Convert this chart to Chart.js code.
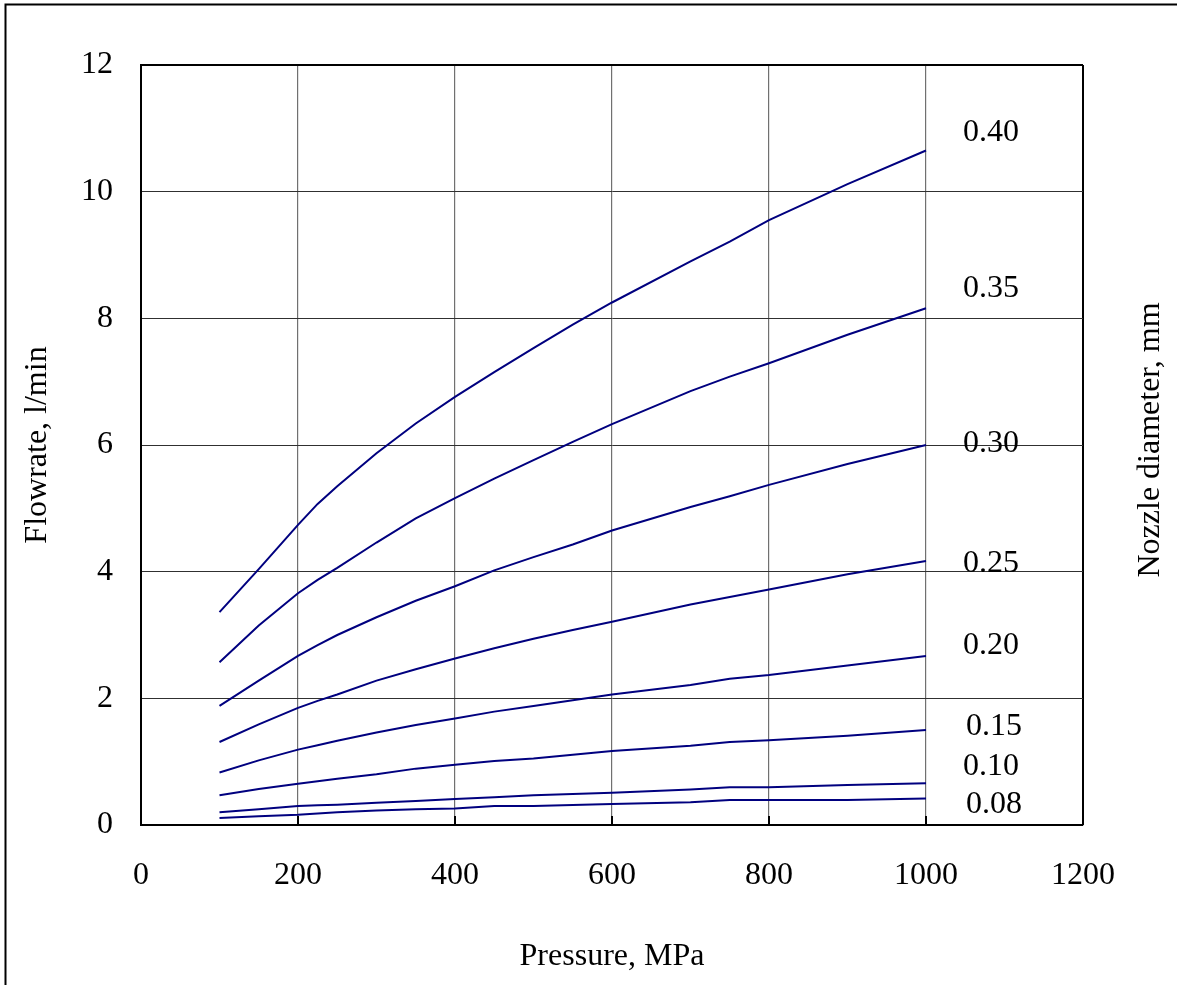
<!DOCTYPE html>
<html>
<head>
<meta charset="utf-8">
<title>Flowrate vs pressure</title>
<script src="https://cdn.jsdelivr.net/npm/chart.js"></script>
<style>
  body { margin: 0; background: #fff; }
  canvas { display: block; }
</style>
</head>
<body>
<canvas id="flowchart" width="1177" height="985"></canvas>
<script>
// pressure, MPa
const pressure = [100, 150, 200, 225, 250, 300, 350, 400, 450, 500, 550, 600, 700, 750, 800, 900, 1000];

// nozzle diameters, mm
const diameters = ['0.40', '0.35', '0.30', '0.25', '0.20', '0.15', '0.10', '0.08'];

// flowrate, l/min
const flow040 = [3.36, 4.04, 4.74, 5.07, 5.35, 5.87, 6.34, 6.76, 7.15, 7.53, 7.90, 8.25, 8.90, 9.21, 9.55, 10.12, 10.65];
const flow035 = [2.57, 3.15, 3.66, 3.87, 4.06, 4.46, 4.84, 5.16, 5.47, 5.76, 6.05, 6.33, 6.85, 7.08, 7.29, 7.74, 8.16];
const flow030 = [1.88, 2.28, 2.67, 2.84, 3.00, 3.28, 3.54, 3.77, 4.02, 4.23, 4.43, 4.65, 5.02, 5.19, 5.37, 5.70, 6.00];
const flow025 = [1.31, 1.59, 1.85, 1.96, 2.06, 2.28, 2.46, 2.63, 2.79, 2.94, 3.08, 3.21, 3.48, 3.60, 3.72, 3.96, 4.17];
const flow020 = [0.83, 1.02, 1.19, 1.26, 1.33, 1.46, 1.58, 1.68, 1.79, 1.88, 1.97, 2.06, 2.21, 2.31, 2.37, 2.52, 2.67];
const flow015 = [0.47, 0.57, 0.65, 0.69, 0.73, 0.80, 0.89, 0.95, 1.01, 1.05, 1.11, 1.17, 1.25, 1.31, 1.34, 1.41, 1.50];
const flow010 = [0.20, 0.25, 0.30, 0.31, 0.32, 0.35, 0.38, 0.41, 0.44, 0.47, 0.49, 0.51, 0.56, 0.595, 0.595, 0.63, 0.66];
const flow008 = [0.11, 0.14, 0.16, 0.18, 0.20, 0.23, 0.25, 0.26, 0.30, 0.30, 0.315, 0.33, 0.36, 0.395, 0.395, 0.395, 0.42];

const xTicks = [0, 200, 400, 600, 800, 1000, 1200];
const yTicks = [0, 2, 4, 6, 8, 10, 12];

const allFlows = [flow040, flow035, flow030, flow025, flow020, flow015, flow010, flow008];

const serif = 'Liberation Serif';
const fontSize = 32;

// where the diameter labels sit, in flowrate units
const labelLevel = [10.93, 8.47, 6.02, 4.12, 2.84, 1.55, 0.93, 0.32];

const extras = {
  id: 'extras',
  beforeDraw(chart) {
    const c = chart.ctx;
    c.save();
    c.fillStyle = '#fff';
    c.fillRect(0, 0, chart.width, chart.height);
    // outer frame (only left/top fall inside the picture)
    c.strokeStyle = '#000';
    c.lineWidth = 2;
    c.strokeRect(5.5, 4.5, 1300, 1100);
    c.restore();
  },
  afterDraw(chart) {
    const c = chart.ctx;
    const xs = chart.scales.x;
    const ys = chart.scales.y;
    const area = chart.chartArea;
    c.save();
    // small inside ticks on the x axis
    c.strokeStyle = '#000';
    c.lineWidth = 2;
    xTicks.forEach(v => {
      const px = Math.round(xs.getPixelForValue(v));
      c.beginPath();
      c.moveTo(px, area.bottom);
      c.lineTo(px, area.bottom - 9);
      c.stroke();
    });
    // diameter labels
    c.fillStyle = '#000';
    c.font = fontSize + 'px "' + serif + '"';
    c.textAlign = 'left';
    c.textBaseline = 'middle';
    diameters.forEach((d, i) => {
      const shift = (d === '0.15' || d === '0.08') ? 3 : 0;
      c.fillText(d, xs.getPixelForValue(1000) + 37 + shift, ys.getPixelForValue(labelLevel[i]));
    });
    // right axis title
    c.translate(1151, 440);
    c.rotate(-Math.PI / 2);
    c.textAlign = 'center';
    c.fillText('Nozzle diameter, mm', 0, 0);
    c.restore();
  }
};

const ctx = document.getElementById('flowchart');
const myChart = new Chart(ctx, {
  type: 'line',
  data: {
    datasets: allFlows.map((vals, i) => ({
      label: diameters[i],
      data: pressure.map((p, j) => ({ x: p, y: vals[j] })),
      borderColor: '#00007f',
      borderWidth: 2,
      pointRadius: 0,
      fill: false,
      tension: 0
    }))
  },
  options: {
    responsive: false,
    animation: false,
    layout: { padding: { left: 6, top: 65, right: 94, bottom: 0 } },
    plugins: {
      legend: { display: false },
      tooltip: { enabled: false }
    },
    scales: {
      x: {
        type: 'linear',
        min: 0,
        max: 1200,
        afterBuildTicks: s => { s.ticks = xTicks.map(v => ({ value: v })); },
        afterFit: s => { s.height = 160; },
        grid: {
          drawTicks: false,
          color: c => (c.tick && (c.tick.value === 1200)) ? '#000' : '#707070',
          lineWidth: c => (c.tick && (c.tick.value === 1200)) ? 2 : 1.2
        },
        border: { color: '#000', width: 2 },
        ticks: {
          padding: 31,
          color: '#000',
          font: { family: serif, size: fontSize },
          callback: v => String(v)
        },
        title: {
          display: true,
          text: 'Pressure, MPa',
          color: '#000',
          padding: { top: 0, bottom: 9 },
          font: { family: serif, size: fontSize }
        }
      },
      y: {
        min: 0,
        max: 12,
        afterBuildTicks: s => { s.ticks = yTicks.map(v => ({ value: v })); },
        afterFit: s => { s.width = 135; },
        grid: {
          drawTicks: false,
          color: c => (c.tick && c.tick.value === 12) ? '#000' : '#303030',
          lineWidth: c => (c.tick && c.tick.value === 12) ? 2 : 1
        },
        border: { color: '#000', width: 2 },
        ticks: {
          padding: 28,
          color: '#000',
          font: { family: serif, size: fontSize },
          callback: v => String(v)
        },
        title: {
          display: true,
          text: 'Flowrate, l/min',
          color: '#000',
          padding: { top: 12, bottom: 0 },
          font: { family: serif, size: fontSize }
        }
      }
    }
  },
  plugins: [extras]
});
</script>
</body>
</html>
